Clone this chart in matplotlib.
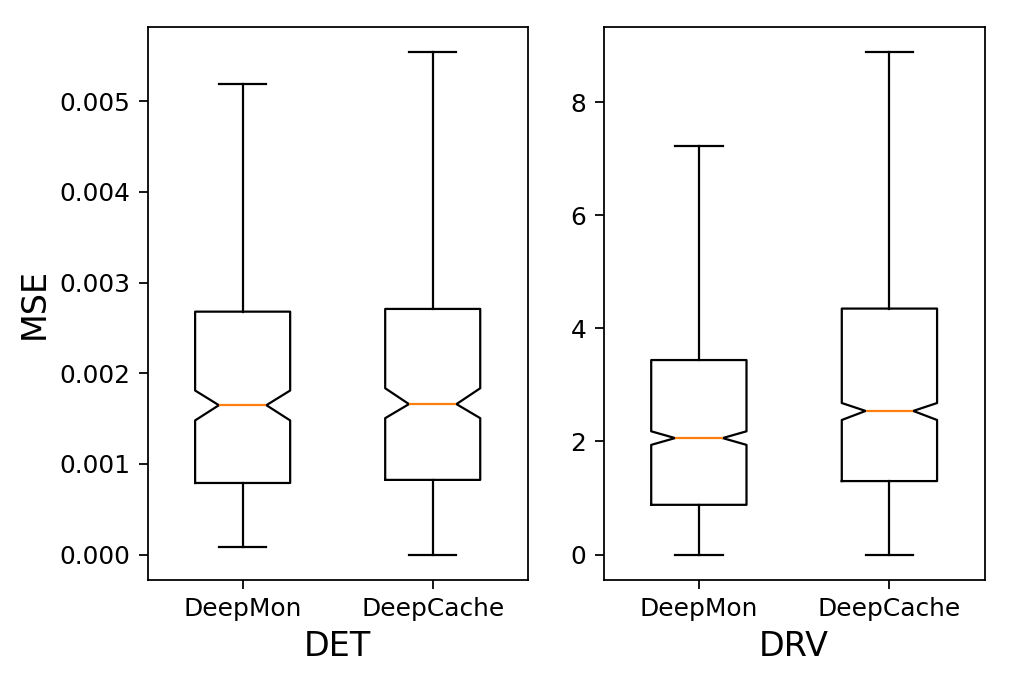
import matplotlib
matplotlib.use('Agg')
import matplotlib.pyplot as plt

# box statistics (notched boxes)
labels = ['DeepMon', 'DeepCache']

det_whislo = [0.000088, 0.0]
det_q1 = [0.00079, 0.000824]
det_cilo = [0.00148, 0.001505]
det_med = [0.001648, 0.00166]
det_cihi = [0.00181, 0.001835]
det_q3 = [0.00268, 0.00271]
det_whishi = [0.00519, 0.00554]

drv_whislo = [0.0, 0.0]
drv_q1 = [0.88, 1.30]
drv_cilo = [1.94, 2.38]
drv_med = [2.06, 2.54]
drv_cihi = [2.18, 2.68]
drv_q3 = [3.44, 4.35]
drv_whishi = [7.22, 8.88]


def make_stats(whislo, q1, cilo, med, cihi, q3, whishi):
    stats = []
    for i, lab in enumerate(labels):
        stats.append(dict(label=lab, whislo=whislo[i], q1=q1[i], cilo=cilo[i],
                          med=med[i], cihi=cihi[i], q3=q3[i],
                          whishi=whishi[i], fliers=[]))
    return stats


plt.rcParams['xtick.labelsize'] = 11.2
plt.rcParams['ytick.labelsize'] = 11.2
plt.rcParams['xtick.major.size'] = 3.9
plt.rcParams['ytick.major.size'] = 3.9
plt.rcParams['xtick.major.pad'] = 3.9
plt.rcParams['ytick.major.pad'] = 3.9

dpi = 160
fig = plt.figure(figsize=(1011 / dpi, 682 / dpi), dpi=dpi)
ax1 = fig.add_axes([0.146, 0.150, 0.376, 0.810])
ax2 = fig.add_axes([0.597, 0.150, 0.377, 0.810])

ax1.bxp(make_stats(det_whislo, det_q1, det_cilo, det_med, det_cihi, det_q3, det_whishi),
        shownotches=True, widths=0.5)
ax2.bxp(make_stats(drv_whislo, drv_q1, drv_cilo, drv_med, drv_cihi, drv_q3, drv_whishi),
        shownotches=True, widths=0.5)

ax1.set_ylabel('MSE', fontsize=15)
ax1.set_xlabel('DET', fontsize=15)
ax2.set_xlabel('DRV', fontsize=15)
ax1.set_yticks([0, 0.001, 0.002, 0.003, 0.004, 0.005])
ax1.set_yticklabels(['0.000', '0.001', '0.002', '0.003', '0.004', '0.005'])
ax2.set_yticks([0, 2, 4, 6, 8])

fig.savefig('out.png', dpi=dpi)
